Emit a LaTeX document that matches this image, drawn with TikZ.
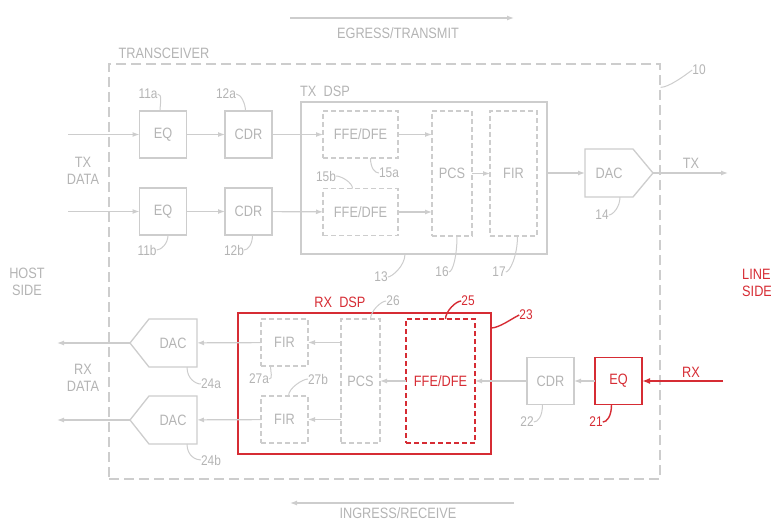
\documentclass[tikz,border=0pt]{standalone}
\usepackage{fontspec}
\setmainfont{Liberation Sans}[FakeStretch=0.85]
\usetikzlibrary{arrows.meta}
\definecolor{lgray}{RGB}{205,205,205}
\definecolor{tgray}{RGB}{180,180,180}
\definecolor{pred}{RGB}{214,44,52}
\newcommand{\lblfont}{\fontsize{15}{17}\selectfont}
\newcommand{\numfont}{\fontsize{14}{16}\selectfont}

\begin{document}
\begin{tikzpicture}[x=1pt,y=-1pt,
 blk/.style={draw=lgray,line width=1.3pt,minimum width=47pt,minimum height=47pt,inner sep=0pt,outer sep=0pt,text=tgray,font=\lblfont},
 dblk/.style={blk,dash pattern=on 5pt off 3pt},
 dacbody/.style={blk,draw=none,minimum width=48pt,minimum height=48pt},
 arr/.style={draw=lgray,line width=1.2pt,-{Latex[length=7pt,width=5pt]}},
 rarr/.style={draw=pred,line width=1.8pt,-{Latex[length=8pt,width=6pt]}},
 txt/.style={text=tgray,font=\lblfont,inner sep=0pt,align=center},
 num/.style={text=tgray,font=\numfont,inner sep=0pt},
 ldr/.style={draw=lgray,line width=1pt}]
\useasboundingbox (0,0) rectangle (771,524);

% direction arrows and outer box
\coordinate (egl) at (290,18); \coordinate (egr) at (514,18);
\coordinate (ingl) at (290,503); \coordinate (ingr) at (514,503);
\draw[arr] (egl) -- (egr); \node[txt] (egress) at (398,33) {EGRESS/TRANSMIT};
\draw[arr] (ingr) -- (ingl); \node[txt] (ingress) at (398,513) {INGRESS/RECEIVE};
\node[draw=lgray,line width=1.3pt,dash pattern=on 10pt off 5pt,minimum width=551pt,minimum height=415pt,inner sep=0pt] (trx) at (384.5,271.5) {};
\node[txt] (trxlbl) at (164,53) {TRANSCEIVER};
\node[num] (n10) at (699,70) {10};
\draw[ldr] ([yshift=-24pt]trx.north east) .. controls +(8,0) and +(-8,6) .. (n10.west);

% side labels
\node[txt] (txdata) at (83,171) {TX\\DATA};
\node[txt] (rxdata) at (83,378) {RX\\DATA};
\node[txt] (host) at (27,282) {HOST\\SIDE};
\node[txt,text=pred,anchor=west,align=left] (line) at (742,283) {LINE\\SIDE};

% transmit path
\coordinate (ina) at (68,134.5); \coordinate (inb) at (68,211.5);
\node[blk] (eqa) at (163,134.5) {EQ};
\node[blk] (cdra) at (248.5,134.5) {CDR};
\node[blk] (eqb) at (163,211.5) {EQ};
\node[blk] (cdrb) at (248.5,211.5) {CDR};
\node[blk,minimum width=246pt,minimum height=152pt] (txdsp) at (424,178) {};
\node[txt,anchor=west] (txdsplbl) at (300,91) {TX\ \ DSP};
\node[dblk,minimum width=75pt] (ffea) at (360.5,134.5) {FFE/DFE};
\node[dblk,minimum width=75pt] (ffeb) at (360.5,212) {FFE/DFE};
\node[dblk,minimum width=40pt,minimum height=125pt] (pcs) at (452,173.5) {PCS};
\node[dblk,minimum height=125pt] (fir) at (513.5,173.5) {FIR};
\node[dacbody] (dac14) at (609,173) {DAC};
\coordinate (dac14tip) at ([xshift=20pt]dac14.east);
\draw[lgray,line width=1.3pt] (dac14.north west) -- (dac14.north east) -- (dac14tip) -- (dac14.south east) -- (dac14.south west) -- cycle;
\coordinate (txout) at (728,173);
\node[txt] (txlbl) at (691,163) {TX};

\draw[arr] (ina) -- (eqa); \draw[arr] (eqa) -- (cdra); \draw[arr] (cdra) -- (ffea);
\draw[arr] (inb) -- (eqb); \draw[arr] (eqb) -- (cdrb); \draw[arr] (cdrb) -- (ffeb);
\draw[arr] (ffea.east) -- (ffea.east -| pcs.west);
\draw[arr] (ffeb.east) -- (ffeb.east -| pcs.west);
\draw[arr] (pcs.east |- fir.west) -- (fir.west);
\draw[arr] (txdsp.east |- dac14.west) -- (dac14.west);
\draw[arr] (dac14tip) -- (txout);

% transmit labels
\node[num] (n11a) at (148,94) {11a}; \draw[ldr] (n11a.east) .. controls +(5,0) and +(0,-7) .. ([xshift=-3pt]eqa.north);
\node[num] (n12a) at (226,94) {12a}; \draw[ldr] (n12a.east) .. controls +(5,0) and +(0,-7) .. ([xshift=-3pt]cdra.north);
\node[num] (n11b) at (147,250) {11b}; \draw[ldr] ([xshift=5pt]eqb.south) .. controls +(0,9) and +(4,0) .. (n11b.east);
\node[num] (n12b) at (234,250) {12b}; \draw[ldr] ([xshift=4pt]cdrb.south) .. controls +(0,9) and +(4,0) .. (n12b.east);
\node[num] (n15a) at (389,173) {15a}; \draw[ldr] ([xshift=10pt]ffea.south) .. controls +(0,10) and +(-4,0) .. (n15a.west);
\node[num] (n15b) at (326,176) {15b}; \draw[ldr] (n15b.east) .. controls +(5,0) and +(0,-6) .. ([xshift=-8pt]ffeb.north);
\node[num] (n13) at (381,277) {13}; \draw[ldr] ([xshift=-19pt]txdsp.south) .. controls +(0,12) and +(4,0) .. (n13.east);
\node[num] (n16) at (442,272) {16}; \draw[ldr] ([xshift=5pt]pcs.south) .. controls +(0,20) and +(4,0) .. (n16.east);
\node[num] (n17) at (499,272) {17}; \draw[ldr] ([xshift=4pt]fir.south) .. controls +(0,20) and +(4,0) .. (n17.east);
\node[num] (n14) at (602,215) {14}; \draw[ldr] ([xshift=11pt]dac14.south) .. controls +(0,10) and +(4,0) .. (n14.east);

% receive path
\coordinate (rxin) at (723,381); \coordinate (outa) at (57,343); \coordinate (outb) at (57,420);
\node[blk,draw=pred,line width=1.8pt,text=pred] (eq21) at (618.5,381) {EQ};
\node[blk] (cdr22) at (550.5,381) {CDR};
\node[blk,draw=pred,line width=1.8pt,minimum width=253pt,minimum height=141pt] (rxdsp) at (364.5,383.5) {};
\node[txt,text=pred] (rxdsplbl) at (340,302) {RX\ \ DSP};
\node[dblk,draw=pred,line width=1.6pt,text=pred,minimum width=69pt,minimum height=124pt] (ffe25) at (440.5,381) {FFE/DFE};
\node[dblk,minimum width=39pt,minimum height=124pt] (pcs26) at (360.5,381) {PCS};
\node[dblk] (fira) at (284.5,342.5) {FIR};
\node[dblk] (firb) at (284.5,419.5) {FIR};
\node[dacbody] (dac24a) at (173,343) {DAC};
\node[dacbody] (dac24b) at (173,420) {DAC};
\coordinate (dac24atip) at ([xshift=-19pt]dac24a.west);
\coordinate (dac24btip) at ([xshift=-19pt]dac24b.west);
\draw[lgray,line width=1.3pt] (dac24a.north east) -- (dac24a.north west) -- (dac24atip) -- (dac24a.south west) -- (dac24a.south east) -- cycle;
\draw[lgray,line width=1.3pt] (dac24b.north east) -- (dac24b.north west) -- (dac24btip) -- (dac24b.south west) -- (dac24b.south east) -- cycle;
\node[txt,text=pred] (rxlbl) at (691,372) {RX};

\draw[rarr] (rxin) -- (eq21);
\draw[arr] (eq21) -- (cdr22); \draw[arr] (cdr22) -- (ffe25); \draw[arr] (ffe25) -- (pcs26);
\draw[arr] (fira.east -| pcs26.west) -- (fira.east);
\draw[arr] (firb.east -| pcs26.west) -- (firb.east);
\draw[arr] (fira) -- (dac24a); \draw[arr] (firb) -- (dac24b);
\draw[arr] (dac24atip) -- (outa); \draw[arr] (dac24btip) -- (outb);

% receive labels
\node[num] (n26) at (393,301) {26}; \draw[ldr] ([xshift=10pt]pcs26.north) .. controls +(0,-8) and +(-5,0) .. (n26.west);
\node[num,text=pred] (n25) at (468,301) {25}; \draw[ldr,draw=pred,line width=1.4pt] ([xshift=5pt]ffe25.north) .. controls +(0,-8) and +(-5,0) .. (n25.west);
\node[num,text=pred] (n23) at (526,315) {23}; \draw[ldr,draw=pred,line width=1.4pt] ([yshift=-15pt]rxdsp.north east) .. controls +(8,0) and +(-8,4) .. (n23.west);
\node[num] (n27a) at (259,379) {27a}; \draw[ldr] (n27a.east) .. controls +(4,0) and +(0,6) .. ([xshift=-14pt]fira.south);
\node[num] (n27b) at (318,379) {27b}; \draw[ldr] ([xshift=4pt]firb.north) .. controls +(0,-8) and +(-5,0) .. (n27b.west);
\node[num] (n24a) at (211,384) {24a}; \draw[ldr] ([xshift=14pt]dac24a.south) .. controls +(0,12) and +(-5,0) .. (n24a.west);
\node[num] (n24b) at (211,460) {24b}; \draw[ldr] ([xshift=14pt]dac24b.south) .. controls +(0,12) and +(-5,0) .. (n24b.west);
\node[num] (n22) at (527,422) {22}; \draw[ldr] ([xshift=-8pt]cdr22.south) .. controls +(0,12) and +(4,0) .. (n22.east);
\node[num,text=pred] (n21) at (596,422) {21}; \draw[ldr,draw=pred,line width=1.4pt] ([xshift=-7pt]eq21.south) .. controls +(0,12) and +(4,0) .. (n21.east);
\end{tikzpicture}
\end{document}
